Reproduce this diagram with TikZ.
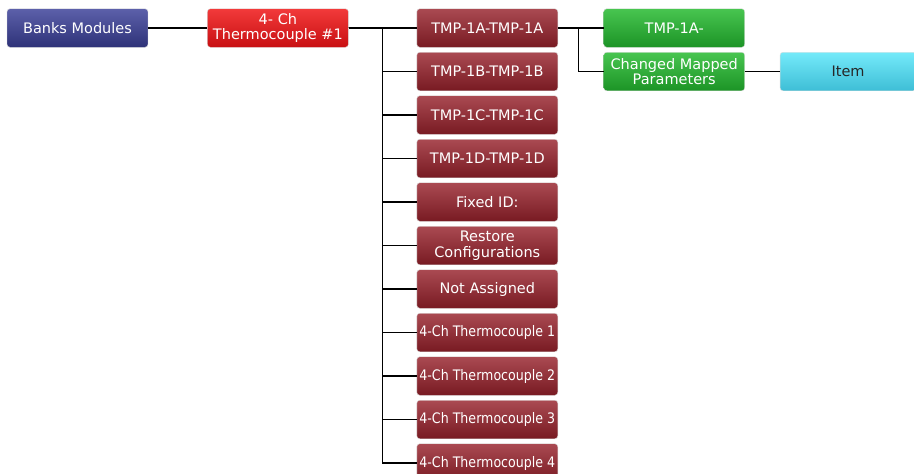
\documentclass[tikz,border=0pt]{standalone}
\usepackage{fontspec}
\setsansfont{DejaVu Sans}
\usepackage{graphicx}
\usepackage{tikz}
\usetikzlibrary{positioning,calc}
\definecolor{BankTop}{HTML}{5C60AA}
\definecolor{BankBot}{HTML}{2E3278}
\definecolor{ThermTop}{HTML}{F23A3A}
\definecolor{ThermBot}{HTML}{C80F12}
\definecolor{ChanTop}{HTML}{AA4A52}
\definecolor{ChanBot}{HTML}{781A22}
\definecolor{MapTop}{HTML}{48C550}
\definecolor{MapBot}{HTML}{1C9426}
\definecolor{ItemTop}{HTML}{74EAFA}
\definecolor{ItemBot}{HTML}{3EBED6}
\newcommand{\narrowtxt}[1]{\scalebox{0.87}[1]{#1}}

\begin{document}
\begin{tikzpicture}[x=1pt, y=1pt, node distance=4.6pt and 59pt,
  box/.style={rounded corners=3pt, minimum width=141pt, minimum height=38.5pt,
    inner sep=0pt, align=center, text=white, draw=black!15, line width=0.4pt,
    font=\sffamily\fontsize{14.5}{15.5}\selectfont},
  bank/.style={box, top color=BankTop, bottom color=BankBot},
  therm/.style={box, top color=ThermTop, bottom color=ThermBot},
  chan/.style={box, top color=ChanTop, bottom color=ChanBot},
  mapped/.style={box, top color=MapTop, bottom color=MapBot},
  itembox/.style={box, minimum width=136pt, text=black!85, top color=ItemTop, bottom color=ItemBot},
  link/.style={draw=black, line width=1.2pt}]
  \useasboundingbox (0,0) rectangle (914,-474);
  \node[bank] (banks) at (77.5,-28) {Banks Modules};
  \node[therm, right=59pt of banks] (th) {4- Ch\\Thermocouple \#1};
  \node[chan, right=68pt of th] (c1) {TMP-1A-TMP-1A};
  \node[chan, below=of c1] (c2) {TMP-1B-TMP-1B};
  \node[chan, below=of c2] (c3) {TMP-1C-TMP-1C};
  \node[chan, below=of c3] (c4) {TMP-1D-TMP-1D};
  \node[chan, below=of c4] (fixid) {Fixed ID:};
  \node[chan, below=of fixid] (restore) {Restore\\Configurations};
  \node[chan, below=of restore] (unassigned) {Not Assigned};
  \node[chan, below=of unassigned] (tc1) {\narrowtxt{4-Ch Thermocouple 1}};
  \node[chan, below=of tc1] (tc2) {\narrowtxt{4-Ch Thermocouple 2}};
  \node[chan, below=of tc2] (tc3) {\narrowtxt{4-Ch Thermocouple 3}};
  \node[chan, below=of tc3] (tc4) {\narrowtxt{4-Ch Thermocouple 4}};
  \node[mapped, right=45.5pt of c1] (g1) {TMP-1A-};
  \node[mapped, below=of g1] (g2) {Changed Mapped\\Parameters};
  \node[itembox, right=35pt of g2] (item) {Item};

  \coordinate (fork) at ($(th.east)!0.5!(c1.west)$);
  \coordinate (split) at ($(c1.east)!0.45!(g1.west)$);
  \draw[link] (banks) -- (th);
  \draw[link] (th.east) -- (fork) |- (c1.west);
  \draw[link] (th.east) -- (fork) |- (c2.west);
  \draw[link] (th.east) -- (fork) |- (c3.west);
  \draw[link] (th.east) -- (fork) |- (c4.west);
  \draw[link] (th.east) -- (fork) |- (fixid.west);
  \draw[link] (th.east) -- (fork) |- (restore.west);
  \draw[link] (th.east) -- (fork) |- (unassigned.west);
  \draw[link] (th.east) -- (fork) |- (tc1.west);
  \draw[link] (th.east) -- (fork) |- (tc2.west);
  \draw[link] (th.east) -- (fork) |- (tc3.west);
  \draw[link] (th.east) -- (fork) |- (tc4.west);
  \draw[link] (c1.east) -- (split) |- (g1.west);
  \draw[link] (c1.east) -- (split) |- (g2.west);
  \draw[link] (g2) -- (item);
\end{tikzpicture}
\end{document}
